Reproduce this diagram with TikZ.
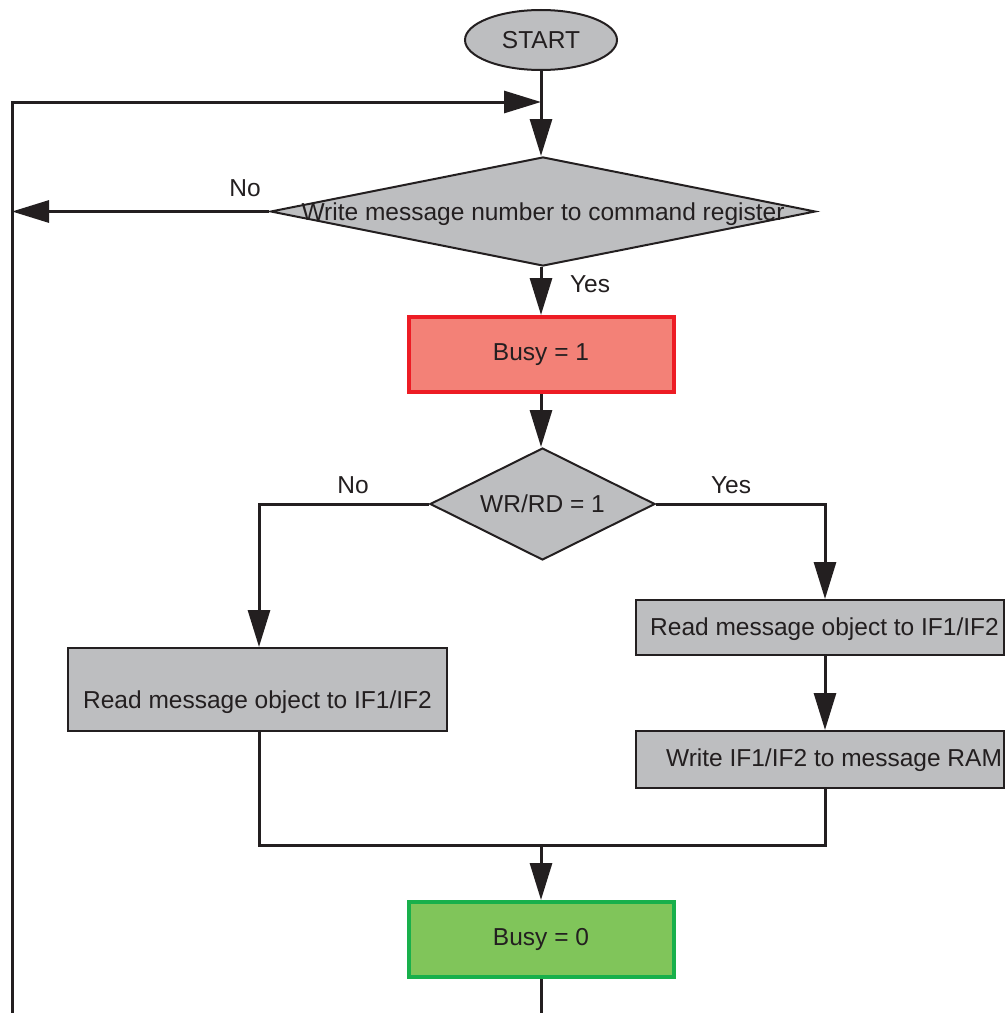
\documentclass[tikz,border=0pt]{standalone}
\usepackage{fontspec}
\setmainfont{Liberation Sans}
\usetikzlibrary{arrows.meta,shapes.geometric}
\definecolor{ink}{RGB}{35,31,32}
\definecolor{boxgray}{RGB}{189,190,192}
\definecolor{busyred}{RGB}{243,129,119}
\definecolor{busyredline}{RGB}{237,28,36}
\definecolor{donegreen}{RGB}{128,197,90}
\definecolor{donegreenline}{RGB}{24,176,75}
\tikzset{
  wire/.style={draw=ink,line width=1.2pt},
  flow/.style={wire,-{Triangle[length=14.8pt,width=8.8pt]}},
  proc/.style={draw=ink,fill=boxgray,line width=0.8pt,inner sep=0pt},
  decide/.style={proc,diamond,aspect=2},
  busybox/.style={draw=busyredline,fill=busyred,line width=1.6pt,
    minimum width=106pt,minimum height=30pt},
  donebox/.style={draw=donegreenline,fill=donegreen,line width=1.6pt,
    minimum width=106pt,minimum height=30pt},
}
\begin{document}
\begin{tikzpicture}[x=0.4pt,y=-0.4pt,font=\fontsize{9.8}{12}\selectfont,
  every node/.append style={text=ink}]
  \useasboundingbox (0,0) rectangle (1005,1013);
  \node[proc,ellipse,minimum width=60.8pt,minimum height=24pt] (start) at (541,40) {START};
  \node[decide,minimum width=218pt,minimum height=43.6pt,
    label={[yshift=-1pt]center:Write message number to command register}] (cmd) at (543,211.5) {};
  \node[busybox] (busy1) at (541,354.5) {Busy = 1};
  \node[decide,minimum width=90pt,minimum height=44.8pt,
    label={center:WR/RD = 1}] (wrrd) at (542.5,504) {};
  \node[proc,minimum width=151.6pt,minimum height=33.2pt,
    label={[yshift=-5.2pt]center:Read message object to IF1/IF2}] (rdleft) at (257.5,689.5) {};
  \node[proc,minimum width=147.2pt,minimum height=22pt,
    label={[xshift=1.8pt,yshift=-0.6pt]center:Read message object to IF1/IF2}] (rdright) at (820,627.5) {};
  \node[proc,minimum width=147.2pt,minimum height=22.8pt,
    label={[xshift=5.6pt,yshift=-0.4pt]center:Write IF1/IF2 to message RAM}] (wrram) at (820,759.5) {};
  \node[donebox] (busy0) at (541,939.5) {Busy = 0};

  \coordinate (loopbot) at (12,1013);
  \coordinate (join) at (541,102);
  \coordinate (nocorner) at (259,504);
  \coordinate (yescorner) at (825,504);
  \coordinate (merge) at (541,845);
  \coordinate (out) at (541,1013);

  \draw[wire] (start) -- (join);
  \draw[flow] (loopbot) |- (join);
  \draw[flow] (join) -- (cmd.north -| join);
  \draw[flow] (cmd.west) -- (cmd.west -| loopbot);
  \draw[flow] (cmd.south -| join) -- (busy1.north);
  \draw[flow] (busy1.south) -- (wrrd.north -| busy1.south);
  \draw[flow] (wrrd.west) -- (nocorner) -- (rdleft.north -| nocorner);
  \draw[flow] (wrrd.east) -- (yescorner) -- (rdright.north -| yescorner);
  \draw[flow] (rdright.south -| yescorner) -- (wrram.north -| yescorner);
  \draw[wire] (rdleft.south -| nocorner) |- (merge -| yescorner)
    -- (wrram.south -| yescorner);
  \draw[flow] (merge) -- (busy0.north);
  \draw[wire] (busy0.south) -- (out);

  \node at (245,188) {No};
  \node at (590,284) {Yes};
  \node at (353,485) {No};
  \node at (731,485) {Yes};
\end{tikzpicture}
\end{document}
